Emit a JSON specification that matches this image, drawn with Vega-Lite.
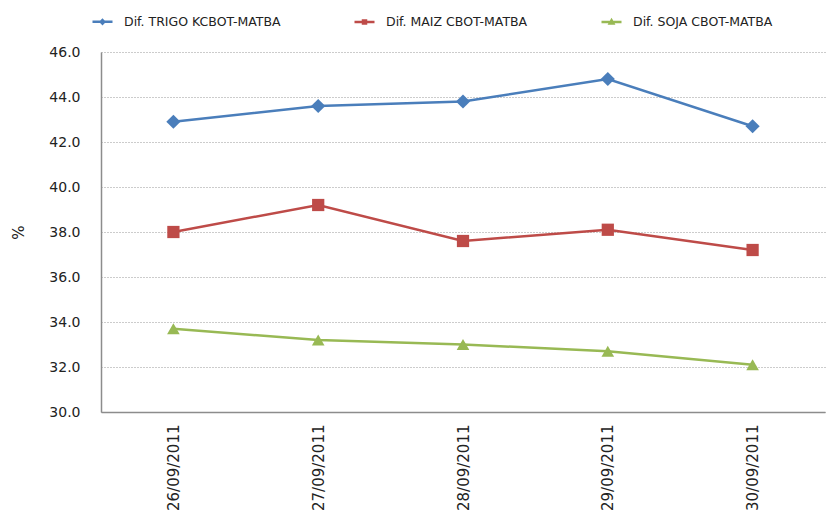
{
  "$schema": "https://vega.github.io/schema/vega-lite/v6.json",
  "width": 724,
  "height": 360,
  "autosize": {"type": "none"},
  "padding": {"left": 101, "top": 52, "right": 13, "bottom": 107},
  "background": "white",
  "config": {"view": {"stroke": null}, "font": "DejaVu Sans"},
  "data": {
    "values": [
      {"fecha": "26/09/2011", "serie": "Dif. TRIGO KCBOT-MATBA", "valor": 42.9},
      {"fecha": "27/09/2011", "serie": "Dif. TRIGO KCBOT-MATBA", "valor": 43.6},
      {"fecha": "28/09/2011", "serie": "Dif. TRIGO KCBOT-MATBA", "valor": 43.8},
      {"fecha": "29/09/2011", "serie": "Dif. TRIGO KCBOT-MATBA", "valor": 44.8},
      {"fecha": "30/09/2011", "serie": "Dif. TRIGO KCBOT-MATBA", "valor": 42.7},
      {"fecha": "26/09/2011", "serie": "Dif. MAIZ CBOT-MATBA", "valor": 38.0},
      {"fecha": "27/09/2011", "serie": "Dif. MAIZ CBOT-MATBA", "valor": 39.2},
      {"fecha": "28/09/2011", "serie": "Dif. MAIZ CBOT-MATBA", "valor": 37.6},
      {"fecha": "29/09/2011", "serie": "Dif. MAIZ CBOT-MATBA", "valor": 38.1},
      {"fecha": "30/09/2011", "serie": "Dif. MAIZ CBOT-MATBA", "valor": 37.2},
      {"fecha": "26/09/2011", "serie": "Dif. SOJA CBOT-MATBA", "valor": 33.7},
      {"fecha": "27/09/2011", "serie": "Dif. SOJA CBOT-MATBA", "valor": 33.2},
      {"fecha": "28/09/2011", "serie": "Dif. SOJA CBOT-MATBA", "valor": 33.0},
      {"fecha": "29/09/2011", "serie": "Dif. SOJA CBOT-MATBA", "valor": 32.7},
      {"fecha": "30/09/2011", "serie": "Dif. SOJA CBOT-MATBA", "valor": 32.1}
    ]
  },
  "encoding": {
    "x": {
      "field": "fecha",
      "type": "ordinal",
      "scale": {"paddingInner": 0, "paddingOuter": 0.5},
      "axis": {
        "title": null,
        "labelAngle": -90,
        "labelFontSize": 15,
        "labelColor": "#222",
        "labelPadding": 12,
        "ticks": false,
        "domainColor": "#8c8c8c",
        "domainWidth": 1.5,
        "grid": false
      }
    },
    "y": {
      "field": "valor",
      "type": "quantitative",
      "scale": {"domain": [30, 46], "nice": false, "zero": false},
      "axis": {
        "title": "%",
        "titleFontSize": 15,
        "titleFontWeight": "normal",
        "titleColor": "#222",
        "titlePadding": 22,
        "values": [30, 32, 34, 36, 38, 40, 42, 44, 46],
        "format": ".1f",
        "labelFontSize": 14,
        "labelColor": "#222",
        "labelPadding": 21,
        "ticks": false,
        "domainColor": "#8c8c8c",
        "domainWidth": 1.5,
        "gridColor": "#999",
        "gridDash": [1, 2],
        "gridWidth": 1
      }
    },
    "color": {
      "field": "serie",
      "type": "nominal",
      "scale": {
        "domain": ["Dif. TRIGO KCBOT-MATBA", "Dif. MAIZ CBOT-MATBA", "Dif. SOJA CBOT-MATBA"],
        "range": ["#4A7EBB", "#BE4B48", "#98B954"]
      }
    }
  },
  "layer": [
    {
      "mark": {"type": "line", "strokeWidth": 2.5},
      "encoding": {
        "color": {
          "field": "serie",
          "type": "nominal",
          "legend": {
            "title": null,
            "orient": "none",
            "direction": "horizontal",
            "legendX": -20,
            "legendY": -52,
            "padding": 0,
            "symbolSize": 1600,
            "symbolStrokeWidth": 2.5,
            "labelFont": "DejaVu Sans",
            "labelFontSize": 12.5,
            "labelColor": "#222",
            "labelOffset": 0,
            "labelLimit": 300,
            "columnPadding": 62,
            "encode": {
              "symbols": {
                "update": {
                  "shape": {"signal": "datum.value === 'Dif. TRIGO KCBOT-MATBA' ? 'M-0.5,0H0.5M0,-0.09L0.09,0L0,0.09L-0.09,0Z' : datum.value === 'Dif. MAIZ CBOT-MATBA' ? 'M-0.5,0H0.5M-0.075,-0.075H0.075V0.075H-0.075Z' : 'M-0.5,0H0.5M0,-0.09L0.09,0.07H-0.09Z'"},
                  "fill": {"signal": "scale('color', datum.value)"},
                  "fillOpacity": {"value": 1},
                  "strokeWidth": {"value": 2.5}
                }
              }
            }
          }
        }
      }
    },
    {
      "transform": [{"filter": "datum.serie === 'Dif. TRIGO KCBOT-MATBA'"}],
      "mark": {"type": "point", "filled": true, "opacity": 1, "shape": "diamond", "size": 200},
      "encoding": {"color": {"field": "serie", "type": "nominal", "legend": null}}
    },
    {
      "transform": [{"filter": "datum.serie === 'Dif. MAIZ CBOT-MATBA'"}],
      "mark": {"type": "point", "filled": true, "opacity": 1, "shape": "square", "size": 150},
      "encoding": {"color": {"field": "serie", "type": "nominal", "legend": null}}
    },
    {
      "transform": [{"filter": "datum.serie === 'Dif. SOJA CBOT-MATBA'"}],
      "mark": {"type": "point", "filled": true, "opacity": 1, "shape": "triangle-up", "size": 160},
      "encoding": {"color": {"field": "serie", "type": "nominal", "legend": null}}
    }
  ]
}
